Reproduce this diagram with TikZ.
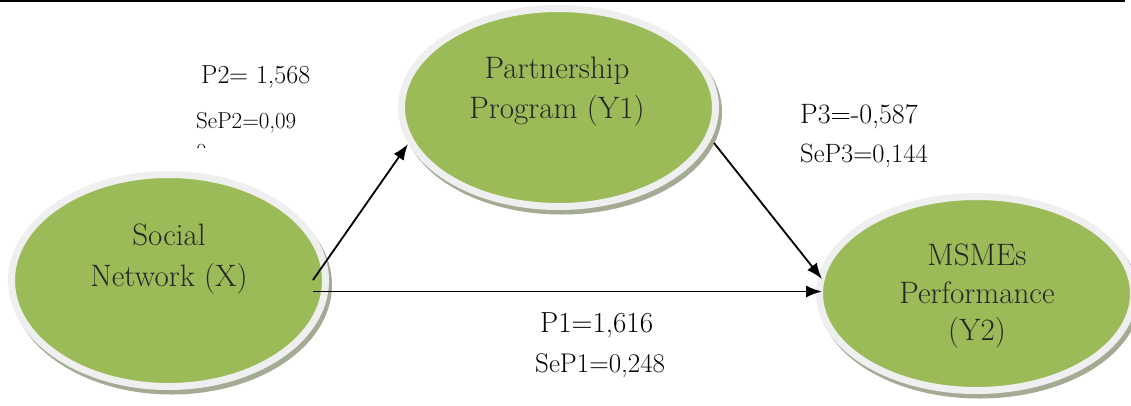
\documentclass[tikz,border=0pt]{standalone}
\usetikzlibrary{shapes.geometric,arrows.meta,calc}
\definecolor{olivegreen}{HTML}{9BBB59}
\definecolor{rimgray}{HTML}{EFEFEF}
\definecolor{shadegray}{HTML}{A4AB94}
\begin{document}
\begin{tikzpicture}[x=1pt,y=-1pt,
  blob/.style={ellipse, fill=olivegreen, draw=rimgray, line width=7pt, inner sep=0pt, minimum width=314pt},
  etext/.style={anchor=base, font=\fontsize{31}{36}\selectfont, text=black!85, inner sep=0pt},
  lab/.style={anchor=base west, inner sep=0pt, text=black},
  conn/.style={line width=1.8pt, -{Latex[length=16pt,width=12pt]}}]
\useasboundingbox (0,0) rectangle (1131,405);
% top rule
\draw[line width=2.5pt] (0,1) -- (1125,1);
% shadows
\fill[shadegray] (171.5,285) ellipse [x radius=160.5pt, y radius=109.5pt];
\fill[shadegray] (561.5,112) ellipse [x radius=160.5pt, y radius=102.5pt];
\fill[shadegray] (979.5,298) ellipse [x radius=160.5pt, y radius=100.5pt];
% ellipses
\node[blob, minimum height=212pt] (sn) at (168.5,280.5) {};
\node[blob, minimum height=198pt] (pp) at (558.5,107.5) {};
\node[blob, minimum height=194pt] (mp) at (976.5,293.5) {};
% ellipse texts
\node[etext] (sn1) at (169,245) {Social};
\node[etext] (sn2) at (169,286) {Network (X)};
\node[etext] (pp1) at (557,78) {Partnership};
\node[etext] (pp2) at (557,118) {Program (Y1)};
\node[etext] (mp1) at (977,265) {MSMEs};
\node[etext] (mp2) at (977,303) {Performance};
\node[etext] (mp3) at (977,340) {(Y2)};
% connectors
\coordinate (sa) at (313,280);
\coordinate (sb) at (313,291.5);
\coordinate (pa) at (408,144);
\coordinate (pb) at (714,143);
\coordinate (ma) at (822,279);
\coordinate (mb) at (822,291.5);
\draw[conn] (sa) -- (pa);
\draw[conn] (sb) -- (mb);
\draw[conn] (pb) -- (ma);
% labels
\node[lab, font=\fontsize{26}{30}\selectfont] (p2) at (201,83) {P2= 1,568};
\node[lab, font=\fontsize{23}{27}\selectfont] (sep2) at (196,128) {SeP2=0,09};
\begin{scope}
\clip (190,135) rectangle (220,147.5);
\node[lab, font=\fontsize{23}{27}\selectfont] (sep2b) at (196,159) {0};
\end{scope}
\node[lab, font=\fontsize{28}{32}\selectfont] (p3) at (800,123) {P3=-0,587};
\node[lab, font=\fontsize{26.5}{30}\selectfont] (sep3) at (800,162) {SeP3=0,144};
\node[lab, font=\fontsize{29}{33}\selectfont] (p1) at (540,332) {P1=1,616};
\node[lab, font=\fontsize{27}{31}\selectfont] (sep1) at (535,372) {SeP1=0,248};
\end{tikzpicture}
\end{document}
